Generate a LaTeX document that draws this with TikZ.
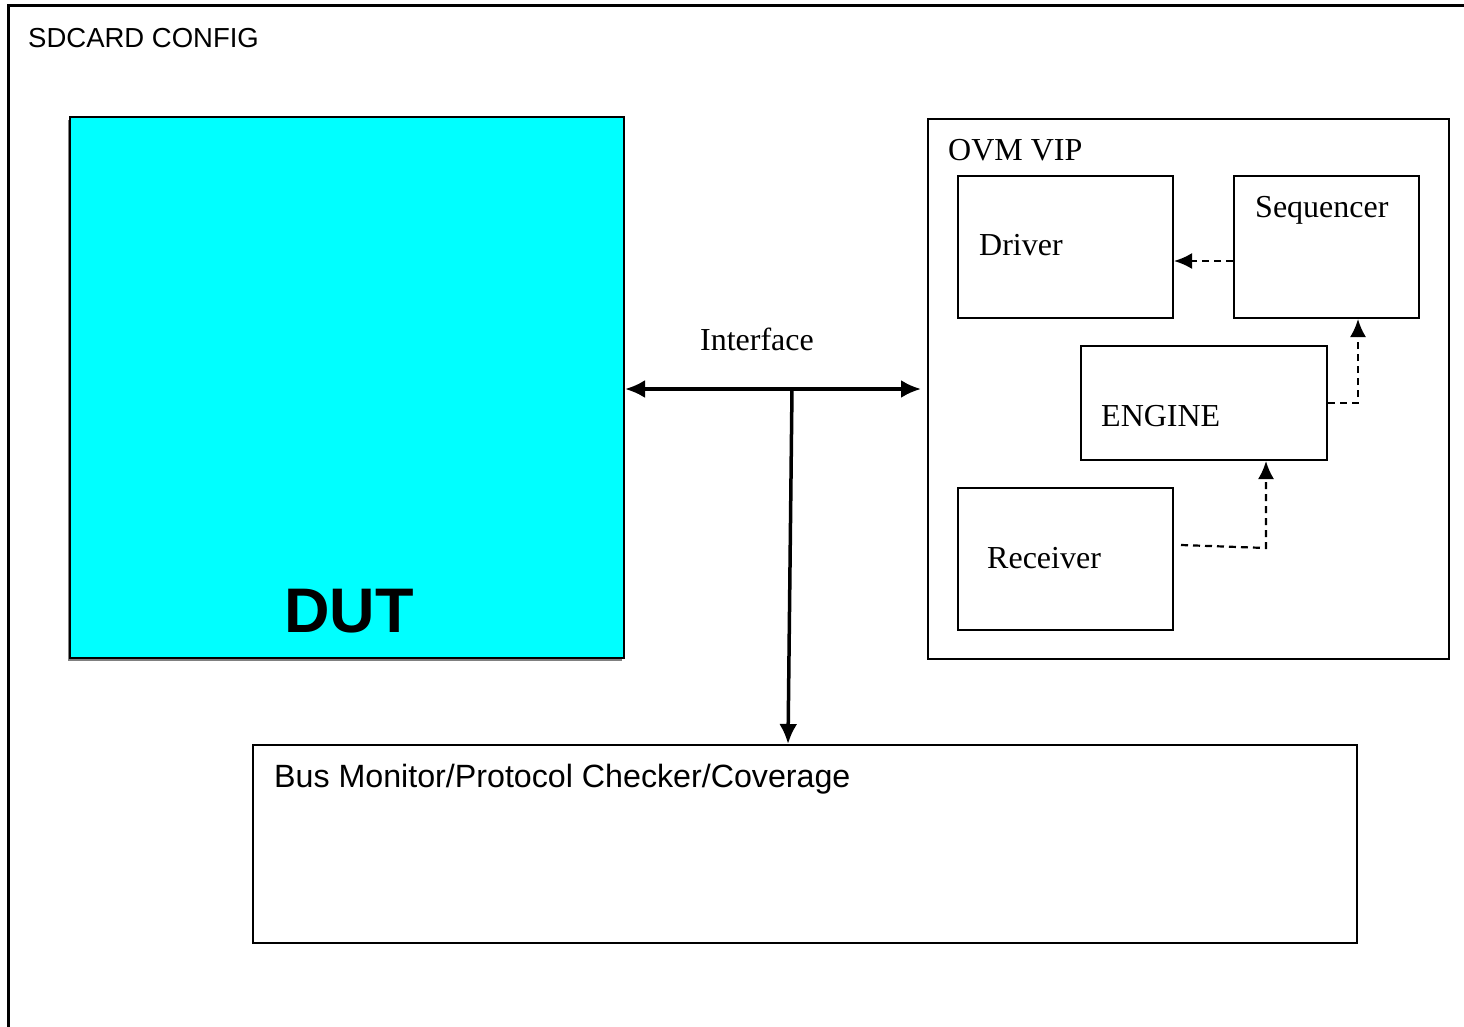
\documentclass[tikz,border=0pt]{standalone}
\usepackage{fontspec}
\setmainfont{Liberation Serif}
\setsansfont{Liberation Sans}
\usetikzlibrary{arrows.meta,calc}
\definecolor{dutcyan}{RGB}{0,255,255}
\tikzset{
  box/.style={draw=black, line width=2pt, inner sep=0pt, fill=white},
  serif/.style={font=\fontsize{32}{36}\selectfont, inner sep=0pt, anchor=base west},
  sanslbl/.style={font=\sffamily\fontsize{30}{34}\selectfont, inner sep=0pt, anchor=base west},
  bus/.style={line width=3.5pt, -{Latex[length=20pt,width=18pt]}},
  busboth/.style={line width=3.5pt, {Latex[length=20pt,width=18pt]}-{Latex[length=20pt,width=18pt]}},
  dashconn/.style={line width=2.2pt, dash pattern=on 7pt off 5pt, -{Latex[length=18pt,width=16pt]}},
}
\begin{document}
\begin{tikzpicture}[x=1pt,y=-1pt]
\useasboundingbox (0,0) rectangle (1464,1026);
\fill[white] (0,0) rectangle (1464,1026);
% outer frame (clipped by page)
\draw[line width=3pt] (8,1040) -- (8,5) -- (1480,5);
\node[sanslbl, font=\sffamily\fontsize{27.5}{32}\selectfont] (title) at (28,47) {SDCARD CONFIG};

% DUT
\draw[line width=2pt, gray] (69,120) -- (69,659.5) -- (622,659.5);
\node[box, fill=dutcyan, minimum width=554pt, minimum height=541pt] (dut) at (347,387.5) {};
\node[inner sep=0pt, anchor=base west, font=\sffamily\bfseries\fontsize{63}{70}\selectfont] (duttxt) at (284,632) {DUT};

% OVM VIP
\node[box, minimum width=521pt, minimum height=540pt] (vip) at (1188.5,389) {};
\node[serif] (viptxt) at (948,160) {OVM VIP};
\node[box, minimum width=215pt, minimum height=142pt] (drv) at (1065.5,247) {};
\node[serif] (drvtxt) at (979,255) {Driver};
\node[box, minimum width=185pt, minimum height=142pt] (seq) at (1326.5,247) {};
\node[serif] (seqtxt) at (1255,217) {Sequencer};
\node[box, minimum width=246pt, minimum height=114pt] (eng) at (1204,403) {};
\node[serif] (engtxt) at (1101,426) {ENGINE};
\node[box, minimum width=215pt, minimum height=142pt] (rcv) at (1065.5,559) {};
\node[serif] (rcvtxt) at (987,568) {Receiver};

% Monitor
\node[box, minimum width=1104pt, minimum height=198pt] (mon) at (805,844) {};
\node[sanslbl, font=\sffamily\fontsize{32.2}{36}\selectfont] (montxt) at (274,787) {Bus Monitor/Protocol Checker/Coverage};

% Interface
\node[serif, anchor=base] (iftxt) at (757,350) {Interface};
\draw[busboth] (dut.east |- vip.west) -- ([xshift=-6pt]vip.west);
\coordinate (tj) at (792,389);
\coordinate (mj) at ($(mon.north west)+(536,0)$);
\draw[bus] (tj) -- (mj);

% dashed internal connectors
\draw[dashconn] ([yshift=-14pt]seq.west) -- ([yshift=-14pt]drv.east);
\draw[dashconn] (eng.east) -| ([xshift=-62pt]seq.south east);
\draw[dashconn] ([shift={(7pt,14pt)}]rcv.east) -- ++(85,3) -- ([xshift=-62pt]eng.south east);
\end{tikzpicture}
\end{document}
